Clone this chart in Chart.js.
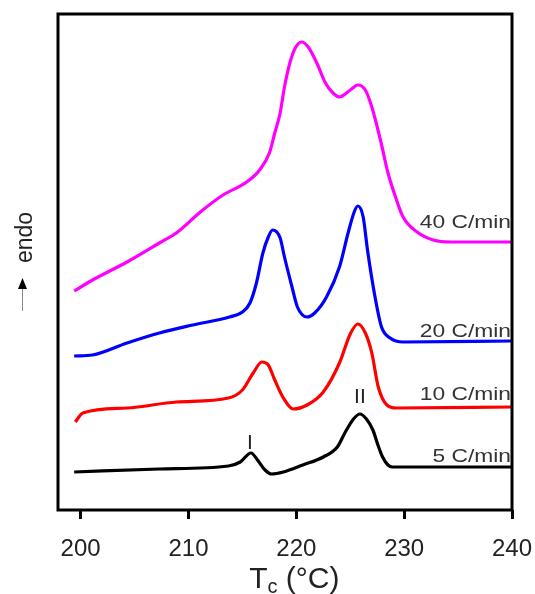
<!DOCTYPE html>
<html>
<head>
  <title>DSC cooling curves</title>
  <script src="https://cdn.jsdelivr.net/npm/chart.js"></script>
  <style>
    html, body { margin: 0; padding: 0; background: #fff; }
  </style>
</head>
<body>
  <canvas id="dsc-chart" width="535" height="594"></canvas>

  <script>
    // cooling rates, bottom to top
    const rates = ['5 C/min', '10 C/min', '20 C/min', '40 C/min'];
    const xTicks = [200, 210, 220, 230, 240];

    // heat flow, arbitrary units (curves are stacked)
    const t5 = [199.4, 207.3, 213.7, 214.8, 215.8, 216.4, 217.1, 217.7, 218.8, 220.6, 222.5, 223.8, 224.5, 225.3, 225.9, 226.5, 227.1, 227.6, 228.0, 228.5, 228.9, 240];
    const h5 = [38, 41, 44, 48, 57, 50, 40, 36, 38, 45, 53, 63, 77, 91, 96, 91, 80, 64, 53, 45, 43, 43];

    const t10 = [199.5, 200.2, 204.3, 208.9, 213.7, 215.0, 216.0, 216.8, 217.4, 218.0, 218.8, 219.7, 221.0, 222.5, 224.0, 225.0, 225.7, 226.4, 227.0, 227.6, 228.4, 229.3, 240];
    const h10 = [88, 97, 102, 108, 112, 120, 137, 148, 145, 130, 112, 101, 105, 118, 147, 176, 186, 177, 157, 123, 105, 102, 103];

    const t20 = [199.4, 201.1, 204.3, 207.3, 210.4, 213.8, 215.0, 215.7, 216.3, 216.9, 217.4, 217.8, 218.5, 218.9, 219.6, 220.1, 221.0, 221.7, 222.8, 224.0, 224.8, 225.4, 225.7, 226.2, 226.6, 227.3, 227.9, 228.7, 229.9, 240];
    const h20 = [154, 155, 167, 177, 185, 193, 198, 207, 227, 257, 273, 280, 272, 253, 223, 203, 193, 197, 213, 243, 277, 299, 304, 293, 260, 213, 183, 172, 168, 169];

    const t40 = [199.4, 201.1, 204.3, 207.3, 209.0, 211.1, 213.2, 215.4, 216.6, 217.5, 218.0, 218.5, 218.9, 219.4, 219.9, 220.5, 221.1, 221.9, 222.7, 223.4, 224.0, 225.0, 225.7, 226.4, 227.0, 227.8, 228.5, 229.2, 229.9, 231.2, 232.7, 234.3, 240];
    const h40 = [219, 230, 248, 267, 278, 298, 315, 328, 340, 357, 377, 397, 423, 447, 462, 468, 463, 447, 427, 417, 413, 420, 425, 420, 403, 370, 337, 313, 293, 278, 270, 268, 268];

    // where the rate labels sit (same units as the curves)
    const labelLevels = [48, 110, 173, 282];
    // peak marks I and II
    const peakNames = ['I', 'II'];
    const peakT = [215.7, 225.9];
    const peakH = [67, 113];

    const colors = ['#000000', '#ff0000', '#0000ff', '#ff00ff'];
    const series = [[t5, h5], [t10, h10], [t20, h20], [t40, h40]];
    const fontFam = '"Liberation Sans", Arial, Helvetica, sans-serif';

    const decor = {
      id: 'decor',
      afterDraw(chart) {
        const ctx = chart.ctx;
        const a = chart.chartArea;
        const xs = chart.scales.x, ys = chart.scales.y;
        ctx.save();

        // frame
        ctx.strokeStyle = '#000';
        ctx.lineWidth = 3;
        ctx.strokeRect(a.left, a.top, a.right - a.left, a.bottom - a.top);

        // rate labels
        ctx.fillStyle = '#333';
        ctx.font = '19px ' + fontFam;
        ctx.textAlign = 'right';
        ctx.textBaseline = 'alphabetic';
        rates.forEach((r, i) => {
          ctx.save();
          ctx.translate(xs.getPixelForValue(240) - 1, ys.getPixelForValue(labelLevels[i]));
          ctx.scale(1.2, 1);
          ctx.fillText(r, 0, 0);
          ctx.restore();
        });

        // peak marks
        ctx.fillStyle = '#222';
        ctx.font = '21px ' + fontFam;
        ctx.textAlign = 'center';
        ctx.textBaseline = 'middle';
        peakNames.forEach((p, i) => {
          ctx.fillText(p, xs.getPixelForValue(peakT[i]), ys.getPixelForValue(peakH[i]));
        });

        // x title with subscript
        const big = '30px ' + fontFam, small = '20px ' + fontFam;
        ctx.textAlign = 'left';
        ctx.textBaseline = 'alphabetic';
        ctx.font = big;
        const wT = ctx.measureText('T').width;
        const wRest = ctx.measureText(' (°C)').width;
        ctx.font = small;
        const wc = ctx.measureText('c').width;
        let x0 = (xs.getPixelForValue(200) + xs.getPixelForValue(240)) / 2 - 2 - (wT + wc + wRest) / 2;
        const base = 588;
        ctx.fillStyle = '#222';
        ctx.font = big;
        ctx.fillText('T', x0, base);
        ctx.font = small;
        ctx.fillText('c', x0 + wT, base + 5);
        ctx.font = big;
        ctx.fillText(' (°C)', x0 + wT + wc, base);

        // y label: arrow + endo
        ctx.strokeStyle = '#888';
        ctx.lineWidth = 1;
        ctx.beginPath();
        ctx.moveTo(22.5, 311);
        ctx.lineTo(22.5, 285);
        ctx.stroke();
        ctx.fillStyle = '#000';
        ctx.beginPath();
        ctx.moveTo(22.5, 278);
        ctx.lineTo(18, 289);
        ctx.lineTo(27, 289);
        ctx.closePath();
        ctx.fill();
        ctx.translate(32, 263);
        ctx.rotate(-Math.PI / 2);
        ctx.fillStyle = '#222';
        ctx.font = '23px ' + fontFam;
        ctx.textAlign = 'left';
        ctx.fillText('endo', 0, 0);

        ctx.restore();
      }
    };

    const ctx = document.getElementById('dsc-chart').getContext('2d');
    const dscChart = new Chart(ctx, {
      type: 'line',
      data: {
        datasets: series.map((s, i) => ({
          label: rates[i],
          data: s[0].map((t, j) => ({ x: t, y: s[1][j] })),
          borderColor: colors[i],
          borderWidth: 3.2,
          pointRadius: 0,
          fill: false,
          cubicInterpolationMode: 'monotone'
        }))
      },
      options: {
        responsive: false,
        animation: false,
        layout: { padding: { left: 58, right: 23, top: 14, bottom: 0 } },
        plugins: {
          legend: { display: false },
          tooltip: { enabled: false }
        },
        scales: {
          x: {
            type: 'linear',
            min: 197.9,
            max: 240,
            afterBuildTicks: s => { s.ticks = xTicks.map(v => ({ value: v })); },
            afterFit: s => {
              s.height = 84;
              s.paddingLeft = 0;
              s.paddingRight = 0;
            },
            grid: { drawOnChartArea: false, drawTicks: true, tickLength: 9, color: '#000', lineWidth: 3 },
            border: { display: false },
            ticks: {
              color: '#222',
              font: { size: 24, family: fontFam },
              padding: 16,
              maxRotation: 0
            }
          },
          y: {
            display: false,
            min: 0,
            max: 496
          }
        }
      },
      plugins: [decor]
    });
  </script>
</body>
</html>
